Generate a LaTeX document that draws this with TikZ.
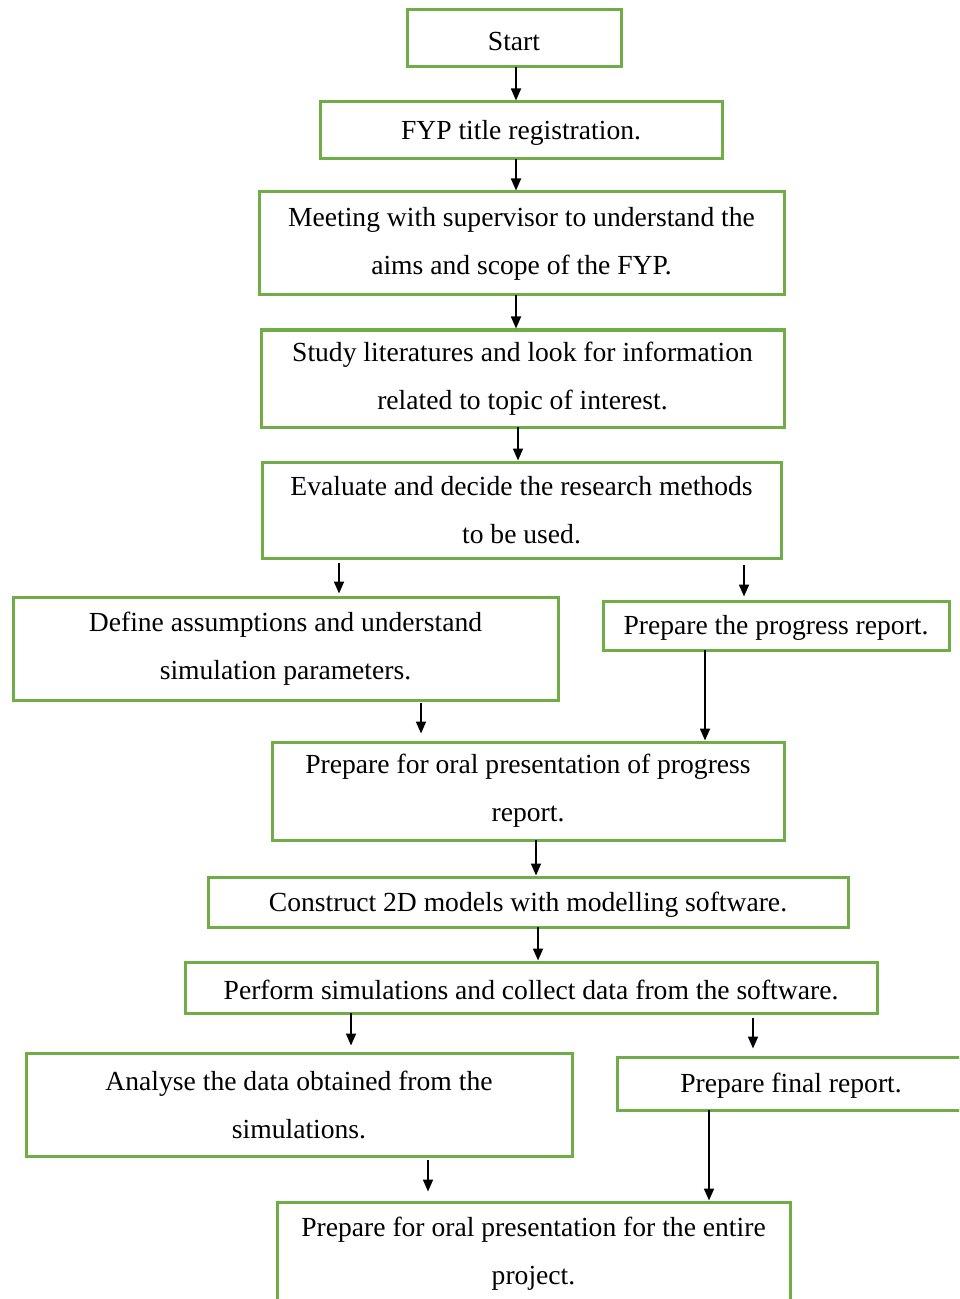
\documentclass[tikz,border=0pt]{standalone}
\usepackage{fontspec}
\setmainfont{Liberation Serif}
\usepackage{color}
\usetikzlibrary{arrows.meta}
\definecolor{boxgreen}{RGB}{112,173,71}
\begin{document}
\begin{tikzpicture}[x=0.5pt, y=-0.5pt, box/.style = {draw=boxgreen, line width=1.5pt, align=center, inner sep=0pt, font=\fontsize{13.8}{24}\selectfont, execute at begin node=\rule{0pt}{12.4pt}}, arr/.style = {-{Triangle[length=6pt,width=5pt]}, line width=0.9pt}]
\useasboundingbox (0,0) rectangle (959,1299); \clip (0,0) rectangle (959,1299);
\node[box, minimum width=107pt, minimum height=28.5pt](1) at (514,38.5) {Start};
\node[box, minimum width=201pt, minimum height=28.5pt](2) at (521,130.5) {FYP title registration.};
\node[box, minimum width=262.5pt, minimum height=51.5pt](3) at (521.5,243.5) {Meeting with supervisor to understand the\\aims and scope of the FYP.};
\node[box, minimum width=261.5pt, minimum height=48.5pt](4) at (522.5,378.5) {Study literatures and look for information\\related to topic of interest.};
\node[box, minimum width=259.5pt, minimum height=48pt](5) at (521.5,510) {Evaluate and decide the research methods\\to be used.};
\node[box, minimum width=272.5pt, minimum height=51.5pt](6) at (285.5,648.5) {Define assumptions and understand\\simulation parameters.};
\node[box, minimum width=173pt, minimum height=24.5pt](7) at (776,625.5) {Prepare the progress report.};
\node[box, minimum width=256pt, minimum height=49pt](8) at (528,791) {Prepare for oral presentation of progress\\report.};
\node[box, minimum width=320pt, minimum height=25pt](9) at (528,902) {Construct 2D models with modelling software.};
\node[box, minimum width=346pt, minimum height=25.5pt](10) at (531,987.5) {Perform simulations and collect data from the software.};
\node[box, minimum width=273pt, minimum height=51.5pt](11) at (299,1104.5) {Analyse the data obtained from the\\simulations.};
\node[box, minimum width=174pt, minimum height=26.5pt](12) at (791,1083.5) {Prepare final report.};
\node[box, minimum width=256.5pt, minimum height=52pt](13) at (533.5,1254) {Prepare for oral presentation for the entire\\project.};
\coordinate (a1) at (516,67); \coordinate (a2) at (516,159); \coordinate (a3) at (516,295); \coordinate (a4) at (518,427);
\coordinate (a5) at (339,563); \coordinate (a6) at (744,565); \coordinate (a7) at (421,703); \coordinate (a8) at (705,650);
\coordinate (a9) at (536,840); \coordinate (a10) at (538,927); \coordinate (a11) at (351,1013); \coordinate (a12) at (753,1018);
\coordinate (a13) at (428,1160); \coordinate (a14) at (709,1110);
\draw[arr] (a1) -- (a1 |- 2.north); \draw[arr] (a2) -- (a2 |- 3.north); \draw[arr] (a3) -- (a3 |- 4.north); \draw[arr] (a4) -- (a4 |- 5.north);
\draw[arr, shorten >=1pt] (a5) -- (a5 |- 6.north); \draw[arr, shorten >=1.5pt] (a6) -- (a6 |- 7.north);
\draw[arr, shorten >=3.5pt] (a7) -- (a7 |- 8.north); \draw[arr] (a8) -- (a8 |- 8.north);
\draw[arr] (a9) -- (a9 |- 9.north); \draw[arr] (a10) -- (a10 |- 10.north);
\draw[arr, shorten >=3pt] (a11) -- (a11 |- 11.north); \draw[arr, shorten >=3.5pt] (a12) -- (a12 |- 12.north);
\draw[arr, shorten >=4.5pt] (a13) -- (a13 |- 13.north); \draw[arr] (a14) -- (a14 |- 13.north);
\end{tikzpicture}
\end{document}
